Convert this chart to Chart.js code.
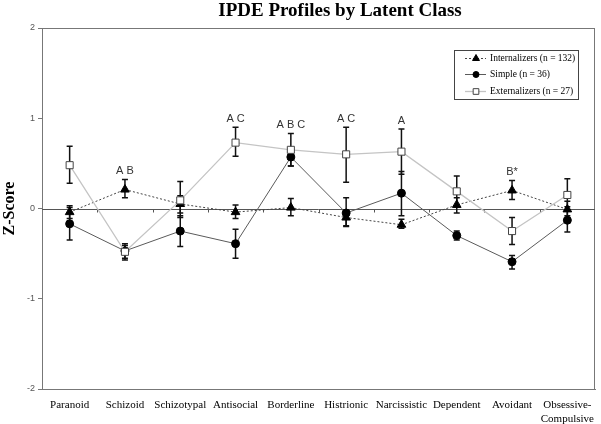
<!DOCTYPE html>
<html>
<head>
<meta charset="utf-8">
<script src="https://cdn.jsdelivr.net/npm/chart.js@4.4.0/dist/chart.umd.min.js"></script>
<style>
  body { margin: 0; background: #fff; }
  #wrap { width: 601px; height: 424px; position: relative; }
</style>
</head>
<body>
<div id="wrap"><canvas id="chart" width="601" height="424"></canvas></div>
<script>
// IPDE profiles — z-scores per latent class, with error bars and contrast letters

const categories = ['Paranoid', 'Schizoid', 'Schizotypal', 'Antisocial', 'Borderline',
  'Histrionic', 'Narcissistic', 'Dependent', 'Avoidant', ['Obsessive-', 'Compulsive']];

const internalizers = [-0.04, 0.21, 0.05, -0.04, 0.01, -0.10, -0.18, 0.04, 0.20, -0.01];
const internalizersLo = [-0.11, 0.12, -0.05, -0.11, -0.08, -0.19, -0.22, -0.05, 0.10, -0.08];
const internalizersHi = [0.03, 0.32, 0.14, 0.04, 0.11, -0.03, -0.12, 0.12, 0.31, 0.08];

const simple = [-0.17, -0.47, -0.25, -0.39, 0.57, -0.05, 0.17, -0.30, -0.59, -0.13];
const simpleLo = [-0.35, -0.55, -0.42, -0.55, 0.47, -0.20, -0.08, -0.35, -0.67, -0.26];
const simpleHi = [0.01, -0.41, -0.08, -0.23, 0.67, 0.12, 0.41, -0.25, -0.52, 0.02];

const externalizers = [0.48, -0.48, 0.09, 0.73, 0.65, 0.60, 0.63, 0.19, -0.25, 0.15];
const externalizersLo = [0.28, -0.57, -0.10, 0.58, 0.47, 0.29, 0.38, 0.02, -0.40, -0.03];
const externalizersHi = [0.69, -0.39, 0.30, 0.90, 0.83, 0.90, 0.88, 0.36, -0.10, 0.33];

const contrastLabels = ['', 'A B', '', 'A C', 'A B C', 'A C', 'A', '', 'B*', ''];

const seriesNames = ['Internalizers (n = 132)', 'Simple (n = 36)', 'Externalizers (n = 27)'];
const yTicks = [-2, -1, 0, 1, 2];

const errorBars = [
  { lo: internalizersLo, hi: internalizersHi },
  { lo: simpleLo, hi: simpleHi },
  { lo: externalizersLo, hi: externalizersHi },
];

const decorPlugin = {
  id: 'decor',
  beforeDatasetsDraw(chart) {
    const { ctx, chartArea: a, scales: { x, y } } = chart;
    ctx.save();
    // frame
    ctx.strokeStyle = '#777';
    ctx.lineWidth = 1;
    ctx.strokeRect(a.left + 0.5, a.top + 0.5, a.right - a.left - 1, a.bottom - a.top);
    // zero line with category ticks
    const y0 = Math.round(y.getPixelForValue(0)) + 0.5;
    ctx.strokeStyle = '#555';
    ctx.beginPath();
    ctx.moveTo(a.left, y0);
    ctx.lineTo(a.right, y0);
    const step = (a.right - a.left) / categories.length;
    for (let i = 1; i < categories.length; i++) {
      const xx = Math.round(a.left + step * i) + 0.5;
      ctx.moveTo(xx, y0);
      ctx.lineTo(xx, y0 + 3);
    }
    ctx.stroke();
    // error bars
    ctx.strokeStyle = '#111';
    ctx.lineWidth = 1.5;
    errorBars.forEach(eb => {
      eb.lo.forEach((lo, i) => {
        const xx = x.getPixelForValue(i);
        const yl = y.getPixelForValue(lo);
        const yh = y.getPixelForValue(eb.hi[i]);
        ctx.beginPath();
        ctx.moveTo(xx, yl); ctx.lineTo(xx, yh);
        ctx.moveTo(xx - 3, yl); ctx.lineTo(xx + 3, yl);
        ctx.moveTo(xx - 3, yh); ctx.lineTo(xx + 3, yh);
        ctx.stroke();
      });
    });
    ctx.restore();
  },
  afterDraw(chart) {
    const { ctx, scales: { x, y } } = chart;
    ctx.save();
    // title
    ctx.fillStyle = '#000';
    ctx.font = 'bold 19px "Liberation Serif"';
    ctx.textAlign = 'center';
    ctx.textBaseline = 'alphabetic';
    ctx.fillText('IPDE Profiles by Latent Class', 340, 16);
    // contrast letters above the highest error bar
    ctx.font = '11px "Liberation Sans"';
    ctx.fillStyle = '#333';
    ctx.textBaseline = 'bottom';
    contrastLabels.forEach((t, i) => {
      if (!t) return;
      const top = Math.max(internalizersHi[i], simpleHi[i], externalizersHi[i]);
      ctx.fillText(t, x.getPixelForValue(i), y.getPixelForValue(top) - 3);
    });
    // legend box
    const lx = 454, ly = 50, lw = 124, lh = 49;
    ctx.fillStyle = '#fff';
    ctx.fillRect(lx, ly, lw, lh);
    ctx.strokeStyle = '#444';
    ctx.lineWidth = 1;
    ctx.strokeRect(lx + 0.5, ly + 0.5, lw, lh);
    const rows = [58, 74, 91];
    chart.data.datasets.forEach((ds, i) => {
      const ry = rows[i] + 0.5;
      ctx.strokeStyle = ds.borderColor;
      ctx.lineWidth = ds.borderWidth;
      ctx.setLineDash(ds.borderDash || []);
      ctx.beginPath();
      ctx.moveTo(465, ry); ctx.lineTo(486, ry);
      ctx.stroke();
      ctx.setLineDash([]);
      ctx.fillStyle = ds.pointBackgroundColor;
      ctx.strokeStyle = ds.pointBorderColor;
      ctx.lineWidth = ds.pointBorderWidth;
      Chart.helpers.drawPoint(ctx, {
        pointStyle: ds.pointStyle, radius: ds.pointRadius - 1, rotation: 0,
        borderWidth: ds.pointBorderWidth
      }, 476, ry);
      ctx.fillStyle = '#000';
      ctx.font = '9.5px "Liberation Serif"';
      ctx.textAlign = 'left';
      ctx.textBaseline = 'middle';
      ctx.fillText(ds.label, 490, ry);
    });
    ctx.restore();
  }
};

new Chart(document.getElementById('chart'), {
  type: 'line',
  data: {
    labels: categories,
    datasets: [
      {
        label: seriesNames[0],
        data: internalizers,
        borderColor: '#444',
        borderWidth: 1,
        borderDash: [2, 2],
        pointStyle: 'triangle',
        pointRadius: 5,
        pointBackgroundColor: '#000',
        pointBorderColor: '#000',
        pointBorderWidth: 1,
        order: 3,
      },
      {
        label: seriesNames[1],
        data: simple,
        borderColor: '#5a5a5a',
        borderWidth: 1,
        pointStyle: 'circle',
        pointRadius: 4,
        pointBackgroundColor: '#000',
        pointBorderColor: '#000',
        pointBorderWidth: 1,
        order: 2,
      },
      {
        label: seriesNames[2],
        data: externalizers,
        borderColor: '#c4c4c4',
        borderWidth: 1.3,
        pointStyle: 'rect',
        pointRadius: 5,
        pointBackgroundColor: '#fff',
        pointBorderColor: '#444',
        pointBorderWidth: 1,
        order: 1,
      }
    ]
  },
  options: {
    responsive: false,
    animation: false,
    layout: { padding: { top: 28, right: 2, left: 0, bottom: 0 } },
    plugins: {
      legend: { display: false },
      title: { display: false },
      tooltip: { enabled: false }
    },
    scales: {
      x: {
        offset: true,
        grid: { display: false },
        border: { display: true, color: '#777' },
        ticks: {
          color: '#000',
          font: { family: 'Liberation Serif', size: 11, lineHeight: 1.2 },
          maxRotation: 0,
          autoSkip: false,
          padding: 2
        },
        afterFit: s => { s.height = 35; s.paddingLeft = 0; s.paddingRight = 0; }
      },
      y: {
        min: yTicks[0],
        max: yTicks[yTicks.length - 1],
        afterBuildTicks: s => { s.ticks = yTicks.map(v => ({ value: v })); },
        grid: { drawOnChartArea: false, tickLength: 4, color: '#777' },
        border: { display: true, color: '#555' },
        ticks: {
          color: '#555',
          font: { family: 'Liberation Sans', size: 9 },
          padding: 3
        },
        title: {
          display: true,
          text: 'Z-Score',
          color: '#000',
          font: { family: 'Liberation Serif', size: 16, weight: 'bold' },
          padding: 0
        },
        afterFit: s => { s.width = 42; s.paddingTop = 0; s.paddingBottom = 0; }
      }
    }
  },
  plugins: [decorPlugin]
});
</script>
</body>
</html>
